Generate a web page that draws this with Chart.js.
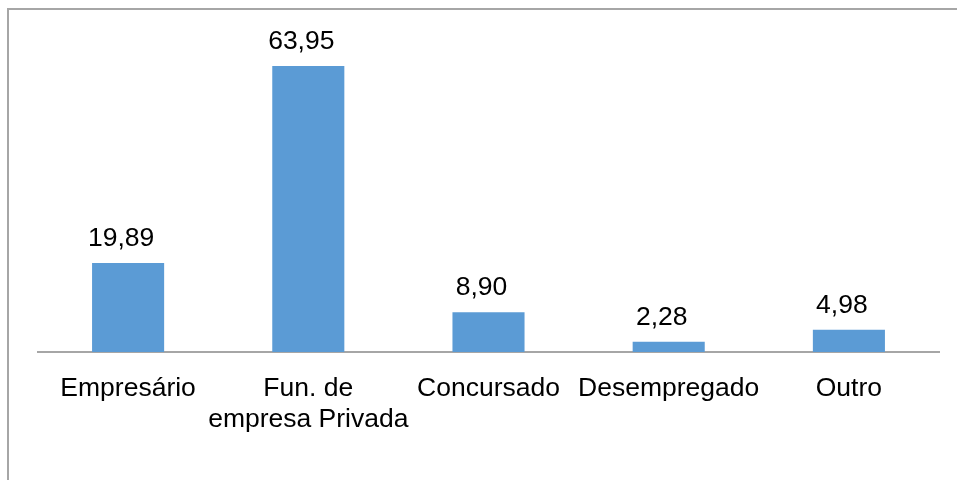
<!DOCTYPE html>
<html>
<head>
<meta charset="utf-8">
<script src="https://cdn.jsdelivr.net/npm/chart.js@4.4.0/dist/chart.umd.min.js"></script>
<style>
    html, body { margin: 0; padding: 0; background: #fff; }
    #wrap { position: relative; width: 957px; height: 480px; }
</style>
</head>
<body>
<div id="wrap"><canvas id="chart"></canvas></div>
<script>
'use strict';

const categories = ['Empresário', ['Fun. de', 'empresa Privada'], 'Concursado', 'Desempregado', 'Outro'];
const values = [19.89, 63.95, 8.90, 2.28, 4.98];

const fontFamily = '"Liberation Sans", Arial, sans-serif';

// frame lines on the left and top, like the original picture
const framePlugin = {
    id: 'frame',
    beforeDraw(chart) {
        const ctx = chart.ctx;
        ctx.save();
        ctx.strokeStyle = '#a6a6a6';
        ctx.lineWidth = 2;
        ctx.beginPath();
        ctx.moveTo(8, chart.height);
        ctx.lineTo(8, 9);
        ctx.lineTo(chart.width, 9);
        ctx.stroke();
        ctx.restore();
    }
};

// value above each bar, decimal comma
const valueLabels = {
    id: 'valueLabels',
    afterDatasetsDraw(chart) {
        const ctx = chart.ctx;
        const meta = chart.getDatasetMeta(0);
        ctx.save();
        ctx.font = `26.5px ${fontFamily}`;
        ctx.fillStyle = '#000';
        ctx.textAlign = 'center';
        ctx.textBaseline = 'alphabetic';
        meta.data.forEach((bar, i) => {
            const text = values[i].toFixed(2).replace('.', ',');
            ctx.fillText(text, bar.x - 7, bar.y - 17);
        });
        ctx.restore();
    }
};

new Chart(document.getElementById('chart'), {
    type: 'bar',
    data: {
        labels: categories,
        datasets: [{
            data: values,
            backgroundColor: '#5b9bd5',
            borderWidth: 0,
            categoryPercentage: 1,
            barPercentage: 0.4
        }]
    },
    options: {
        responsive: true,
        maintainAspectRatio: false,
        animation: false,
        layout: {
            padding: { left: 38, right: 18, top: 39, bottom: 0 }
        },
        plugins: {
            legend: { display: false },
            tooltip: { enabled: false }
        },
        scales: {
            x: {
                grid: { display: false, drawTicks: false },
                border: { display: true, color: '#a6a6a6', width: 2 },
                ticks: {
                    color: '#000',
                    padding: 21,
                    maxRotation: 0,
                    autoSkip: false,
                    font: { family: fontFamily, size: 26.5, lineHeight: 1.17 }
                },
                afterFit(scale) { scale.height = 128; }
            },
            y: {
                display: false,
                min: 0,
                max: 70
            }
        }
    },
    plugins: [framePlugin, valueLabels]
});
</script>
</body>
</html>
